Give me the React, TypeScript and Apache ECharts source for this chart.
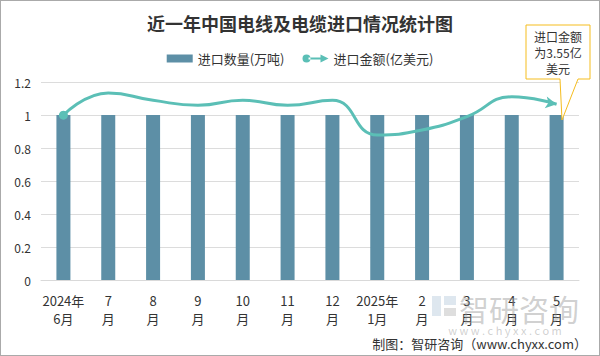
import React, { useEffect, useRef } from "react";
import * as echarts from "echarts";

const categories = ["2024年\n6月", "7\n月", "8\n月", "9\n月", "10\n月", "11\n月", "12\n月", "2025年\n1月", "2\n月", "3\n月", "4\n月", "5\n月"];
const quantity = [1, 1, 1, 1, 1, 1, 1, 1, 1, 1, 1, 1];
const amount = [3.33, 3.78, 3.63, 3.53, 3.63, 3.53, 3.63, 2.93, 3.03, 3.3, 3.7, 3.55];
const leftTicks = { min: 0, max: 1.2, interval: 0.2 };

const FONT = '"Noto Sans CJK SC", "Noto Sans", sans-serif';

export default function App() {
  const ref = useRef<HTMLDivElement>(null);
  useEffect(() => {
    document.body.style.margin = "0";
    const chart = echarts.init(ref.current!, null, { renderer: "svg" });
    const lineData = amount.map((v, i) => {
      if (i === 0) return { value: v, symbol: "circle", symbolSize: 9 };
      if (i === amount.length - 1) return { value: v, symbol: "arrow", symbolSize: [9, 11], symbolRotate: -100 };
      return { value: v };
    });
    chart.setOption({
      animation: false,
      textStyle: { fontFamily: FONT },
      title: {
        text: "近一年中国电线及电缆进口情况统计图",
        left: "center",
        top: 9,
        textStyle: { fontSize: 18, fontWeight: "bold", color: "#333", fontFamily: FONT },
      },
      legend: {
        top: 47,
        left: "center",
        itemGap: 18,
        itemWidth: 26,
        itemHeight: 8,
        textStyle: { fontSize: 13, color: "#333", fontFamily: FONT },
        data: [
          { name: "进口数量(万吨)", icon: "rect" },
          {
            name: "进口金额(亿美元)",
            icon: "path://M0,4a4,4 0 1,0 8,0a4,4 0 1,0 -8,0ZM6,3H19V5H6ZM18,0L26,4L18,8Z",
          },
        ],
      },
      grid: { left: 41, right: 21, top: 82, bottom: 76 },
      xAxis: {
        type: "category",
        data: categories,
        axisTick: { show: false },
        axisLine: { lineStyle: { color: "#d9d9d9" } },
        axisLabel: { color: "#333", fontSize: 13, lineHeight: 18, margin: 11, interval: 0, fontFamily: FONT },
      },
      yAxis: [
        {
          type: "value",
          min: leftTicks.min,
          max: leftTicks.max,
          interval: leftTicks.interval,
          axisLine: { show: false },
          axisTick: { show: false },
          axisLabel: { color: "#333", fontSize: 12, margin: 10 },
          splitLine: { lineStyle: { color: "#dcdcdc" } },
        },
        {
          type: "value",
          min: 0,
          max: 4,
          show: false,
          splitLine: { show: false },
        },
      ],
      series: [
        {
          name: "进口数量(万吨)",
          type: "bar",
          data: quantity,
          barWidth: 14,
          itemStyle: { color: "#5d8fa6" },
        },
        {
          name: "进口金额(亿美元)",
          type: "line",
          yAxisIndex: 1,
          smooth: true,
          symbol: "none",
          data: lineData,
          lineStyle: { color: "#5bbfb6", width: 3 },
          itemStyle: { color: "#5bbfb6" },
        },
      ],
      graphic: [
        {
          type: "polygon",
          shape: {
            points: [[526, 25], [590, 25], [590, 79], [578, 79], [562, 120], [560, 79], [526, 79]],
          },
          style: { fill: "#fff", stroke: "#f5bd1f", lineWidth: 1 },
          z: 100,
        },
        {
          type: "text",
          x: 558,
          y: 52,
          z: 101,
          style: {
            text: "进口金额\n为3.55亿\n美元",
            fill: "#333",
            fontSize: 12,
            lineHeight: 16,
            align: "center",
            verticalAlign: "middle",
            fontFamily: FONT,
          },
        },
        {
          type: "rect",
          shape: { x: 432, y: 296, width: 9, height: 20 },
          style: { fill: "rgba(160,185,210,0.35)" },
          z: 50,
        },
        {
          type: "rect",
          shape: { x: 444, y: 296, width: 12, height: 9 },
          style: { fill: "rgba(160,185,210,0.35)" },
          z: 50,
        },
        {
          type: "rect",
          shape: { x: 444, y: 308, width: 12, height: 8 },
          style: { fill: "rgba(160,160,160,0.35)" },
          z: 50,
        },
        {
          type: "text",
          x: 519,
          y: 308,
          z: 50,
          style: {
            text: "智研咨询",
            fill: "rgba(150,150,150,0.45)",
            fontSize: 30,
            align: "center",
            verticalAlign: "middle",
            fontFamily: FONT,
          },
        },
        {
          type: "text",
          x: 505,
          y: 330,
          z: 50,
          style: {
            text: "w w w . c h y x x . c o m",
            fill: "rgba(150,150,150,0.45)",
            fontSize: 11,
            align: "center",
            verticalAlign: "middle",
            fontFamily: FONT,
          },
        },
        {
          type: "text",
          x: 587,
          y: 343,
          z: 60,
          style: {
            text: "制图：智研咨询（www.chyxx.com）",
            fill: "#333",
            fontSize: 13,
            align: "right",
            verticalAlign: "middle",
            fontFamily: FONT,
          },
        },
      ],
    });
    return () => chart.dispose();
  }, []);
  return (
    <div style={{ width: 600, height: 356, boxSizing: "border-box", border: "1px solid #aaa", position: "relative", background: "#fff" }}>
      <div ref={ref} style={{ position: "absolute", left: -1, top: -1, width: 600, height: 356 }} />
    </div>
  );
}
